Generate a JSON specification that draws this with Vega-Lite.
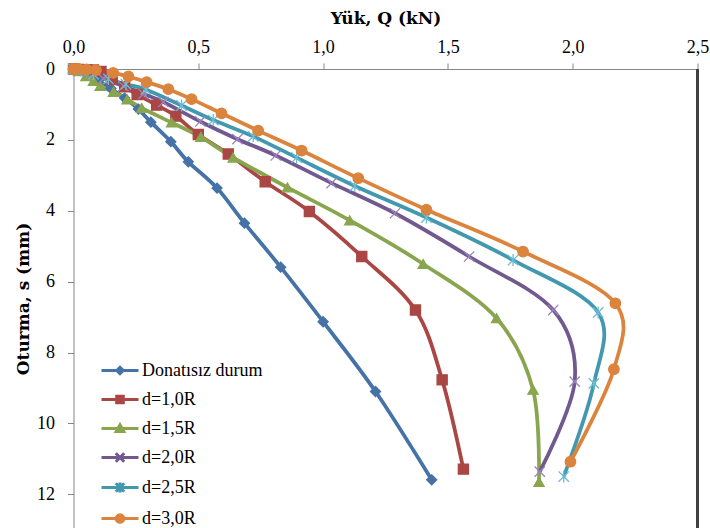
{
  "$schema": "https://vega.github.io/schema/vega-lite/v6.json",
  "width": 624,
  "height": 459,
  "autosize": {"type": "none"},
  "padding": {"left": 73.5, "top": 69, "right": 12.5, "bottom": 0},
  "background": "white",
  "config": {
    "view": {"stroke": null},
    "font": "Times New Roman",
    "axis": {
      "domainColor": "#868686",
      "tickColor": "#868686",
      "tickSize": 6,
      "grid": false,
      "labelFont": "Times New Roman",
      "labelFontSize": 18,
      "labelColor": "#000000",
      "labelFlush": false,
      "titleFont": "DejaVu Serif",
      "titleFontSize": 17,
      "titleFontWeight": "bold",
      "titleColor": "#000000"
    },
    "legend": {
      "labelFont": "Liberation Serif"
    }
  },
  "data": {
    "values": [
      {"g": "Donatısız durum", "i": 0, "q": 0, "s": 0},
      {"g": "Donatısız durum", "i": 1, "q": 0.02, "s": 0.02},
      {"g": "Donatısız durum", "i": 2, "q": 0.05, "s": 0.12},
      {"g": "Donatısız durum", "i": 3, "q": 0.1, "s": 0.32},
      {"g": "Donatısız durum", "i": 4, "q": 0.15, "s": 0.55},
      {"g": "Donatısız durum", "i": 5, "q": 0.205, "s": 0.82},
      {"g": "Donatısız durum", "i": 6, "q": 0.26, "s": 1.13},
      {"g": "Donatısız durum", "i": 7, "q": 0.31, "s": 1.5},
      {"g": "Donatısız durum", "i": 8, "q": 0.39, "s": 2.05},
      {"g": "Donatısız durum", "i": 9, "q": 0.46, "s": 2.62},
      {"g": "Donatısız durum", "i": 10, "q": 0.575, "s": 3.36},
      {"g": "Donatısız durum", "i": 11, "q": 0.685, "s": 4.35},
      {"g": "Donatısız durum", "i": 12, "q": 0.83, "s": 5.59},
      {"g": "Donatısız durum", "i": 13, "q": 1.0, "s": 7.13},
      {"g": "Donatısız durum", "i": 14, "q": 1.21, "s": 9.1},
      {"g": "Donatısız durum", "i": 15, "q": 1.435, "s": 11.59},

      {"g": "d=1,0R", "i": 0, "q": 0, "s": 0},
      {"g": "d=1,0R", "i": 1, "q": 0.02, "s": 0.01},
      {"g": "d=1,0R", "i": 2, "q": 0.05, "s": 0.02},
      {"g": "d=1,0R", "i": 3, "q": 0.08, "s": 0.03},
      {"g": "d=1,0R", "i": 4, "q": 0.11, "s": 0.07},
      {"g": "d=1,0R", "i": 5, "q": 0.155, "s": 0.3},
      {"g": "d=1,0R", "i": 6, "q": 0.205, "s": 0.5},
      {"g": "d=1,0R", "i": 7, "q": 0.255, "s": 0.72},
      {"g": "d=1,0R", "i": 8, "q": 0.333, "s": 1.02},
      {"g": "d=1,0R", "i": 9, "q": 0.41, "s": 1.33},
      {"g": "d=1,0R", "i": 10, "q": 0.5, "s": 1.85},
      {"g": "d=1,0R", "i": 11, "q": 0.62, "s": 2.4},
      {"g": "d=1,0R", "i": 12, "q": 0.768, "s": 3.18},
      {"g": "d=1,0R", "i": 13, "q": 0.945, "s": 4.02},
      {"g": "d=1,0R", "i": 14, "q": 1.155, "s": 5.29},
      {"g": "d=1,0R", "i": 15, "q": 1.37, "s": 6.8},
      {"g": "d=1,0R", "i": 16, "q": 1.477, "s": 8.77},
      {"g": "d=1,0R", "i": 17, "q": 1.562, "s": 11.29},

      {"g": "d=1,5R", "i": 0, "q": 0, "s": 0},
      {"g": "d=1,5R", "i": 1, "q": 0.02, "s": 0.06},
      {"g": "d=1,5R", "i": 2, "q": 0.05, "s": 0.2},
      {"g": "d=1,5R", "i": 3, "q": 0.08, "s": 0.34},
      {"g": "d=1,5R", "i": 4, "q": 0.107, "s": 0.48},
      {"g": "d=1,5R", "i": 5, "q": 0.16, "s": 0.65},
      {"g": "d=1,5R", "i": 6, "q": 0.215, "s": 0.86},
      {"g": "d=1,5R", "i": 7, "q": 0.273, "s": 1.1},
      {"g": "d=1,5R", "i": 8, "q": 0.393, "s": 1.51},
      {"g": "d=1,5R", "i": 9, "q": 0.51, "s": 1.92},
      {"g": "d=1,5R", "i": 10, "q": 0.64, "s": 2.5},
      {"g": "d=1,5R", "i": 11, "q": 0.857, "s": 3.34},
      {"g": "d=1,5R", "i": 12, "q": 1.107, "s": 4.27},
      {"g": "d=1,5R", "i": 13, "q": 1.401, "s": 5.5},
      {"g": "d=1,5R", "i": 14, "q": 1.695, "s": 7.03},
      {"g": "d=1,5R", "i": 15, "q": 1.841, "s": 9.05},
      {"g": "d=1,5R", "i": 16, "q": 1.865, "s": 11.65},

      {"g": "d=2,0R", "i": 0, "q": 0, "s": 0},
      {"g": "d=2,0R", "i": 1, "q": 0.02, "s": 0.03},
      {"g": "d=2,0R", "i": 2, "q": 0.06, "s": 0.12},
      {"g": "d=2,0R", "i": 3, "q": 0.12, "s": 0.27},
      {"g": "d=2,0R", "i": 4, "q": 0.2, "s": 0.48},
      {"g": "d=2,0R", "i": 5, "q": 0.28, "s": 0.7},
      {"g": "d=2,0R", "i": 6, "q": 0.36, "s": 0.93},
      {"g": "d=2,0R", "i": 7, "q": 0.508, "s": 1.48},
      {"g": "d=2,0R", "i": 8, "q": 0.657, "s": 1.98},
      {"g": "d=2,0R", "i": 9, "q": 0.81, "s": 2.44},
      {"g": "d=2,0R", "i": 10, "q": 1.034, "s": 3.22},
      {"g": "d=2,0R", "i": 11, "q": 1.288, "s": 4.07},
      {"g": "d=2,0R", "i": 12, "q": 1.585, "s": 5.29},
      {"g": "d=2,0R", "i": 13, "q": 1.922, "s": 6.8},
      {"g": "d=2,0R", "i": 14, "q": 2.008, "s": 8.82},
      {"g": "d=2,0R", "i": 15, "q": 1.868, "s": 11.36},

      {"g": "d=2,5R", "i": 0, "q": 0, "s": 0},
      {"g": "d=2,5R", "i": 1, "q": 0.03, "s": 0.04},
      {"g": "d=2,5R", "i": 2, "q": 0.08, "s": 0.15},
      {"g": "d=2,5R", "i": 3, "q": 0.14, "s": 0.28},
      {"g": "d=2,5R", "i": 4, "q": 0.21, "s": 0.43},
      {"g": "d=2,5R", "i": 5, "q": 0.29, "s": 0.58},
      {"g": "d=2,5R", "i": 6, "q": 0.433, "s": 1.03},
      {"g": "d=2,5R", "i": 7, "q": 0.56, "s": 1.44},
      {"g": "d=2,5R", "i": 8, "q": 0.72, "s": 1.9},
      {"g": "d=2,5R", "i": 9, "q": 0.894, "s": 2.5},
      {"g": "d=2,5R", "i": 10, "q": 1.127, "s": 3.3},
      {"g": "d=2,5R", "i": 11, "q": 1.414, "s": 4.19},
      {"g": "d=2,5R", "i": 12, "q": 1.761, "s": 5.39},
      {"g": "d=2,5R", "i": 13, "q": 2.102, "s": 6.87},
      {"g": "d=2,5R", "i": 14, "q": 2.085, "s": 8.87},
      {"g": "d=2,5R", "i": 15, "q": 1.964, "s": 11.5},

      {"g": "d=3,0R", "i": 0, "q": 0, "s": 0},
      {"g": "d=3,0R", "i": 1, "q": 0.02, "s": 0.0},
      {"g": "d=3,0R", "i": 2, "q": 0.053, "s": 0.01},
      {"g": "d=3,0R", "i": 3, "q": 0.09, "s": 0.03},
      {"g": "d=3,0R", "i": 4, "q": 0.159, "s": 0.11},
      {"g": "d=3,0R", "i": 5, "q": 0.22, "s": 0.21},
      {"g": "d=3,0R", "i": 6, "q": 0.293, "s": 0.37},
      {"g": "d=3,0R", "i": 7, "q": 0.38, "s": 0.57},
      {"g": "d=3,0R", "i": 8, "q": 0.473, "s": 0.85},
      {"g": "d=3,0R", "i": 9, "q": 0.593, "s": 1.25},
      {"g": "d=3,0R", "i": 10, "q": 0.74, "s": 1.74},
      {"g": "d=3,0R", "i": 11, "q": 0.914, "s": 2.3},
      {"g": "d=3,0R", "i": 12, "q": 1.141, "s": 3.08},
      {"g": "d=3,0R", "i": 13, "q": 1.414, "s": 3.97},
      {"g": "d=3,0R", "i": 14, "q": 1.801, "s": 5.15},
      {"g": "d=3,0R", "i": 15, "q": 2.171, "s": 6.61},
      {"g": "d=3,0R", "i": 16, "q": 2.165, "s": 8.47},
      {"g": "d=3,0R", "i": 17, "q": 1.991, "s": 11.08}
    ]
  },
  "layer": [
    {
      "mark": {"type": "rule", "color": "#404040", "strokeWidth": 1.5},
      "encoding": {"x": {"datum": 2.5, "type": "quantitative"}}
    },
    {
      "mark": {"type": "line", "interpolate": "cardinal", "strokeWidth": 3.75},
      "encoding": {
        "x": {
          "field": "q", "type": "quantitative",
          "scale": {"domain": [0, 2.5], "nice": false, "zero": false},
          "axis": {
            "orient": "top",
            "title": "Yük, Q (kN)",
            "values": [0, 0.5, 1, 1.5, 2, 2.5],
            "labelExpr": "replace(format(datum.value, '.1f'), '.', ',')",
            "labelPadding": 7,
            "titleBaseline": "alphabetic",
            "titleY": -46
          }
        },
        "y": {
          "field": "s", "type": "quantitative",
          "scale": {"domain": [0, 12.95], "reverse": true, "nice": false, "zero": false},
          "axis": {
            "title": "Oturma, s (mm)",
            "values": [0, 2, 4, 6, 8, 10, 12],
            "labelPadding": 13,
            "titleBaseline": "alphabetic",
            "titleX": -45.5
          }
        },
        "order": {"field": "i", "type": "quantitative"},
        "color": {
          "field": "g", "type": "nominal",
          "scale": {
            "domain": ["Donatısız durum", "d=1,0R", "d=1,5R", "d=2,0R", "d=2,5R", "d=3,0R"],
            "range": ["#4572A7", "#AA4643", "#89A54E", "#71588F", "#4198AF", "#DB843D"]
          },
          "legend": null
        }
      }
    },
    {
      "mark": {"type": "point", "strokeWidth": 1.3, "opacity": 1},
      "encoding": {
        "x": {"field": "q", "type": "quantitative"},
        "y": {"field": "s", "type": "quantitative"},
        "shape": {
          "field": "g", "type": "nominal",
          "scale": {
            "domain": ["Donatısız durum", "d=1,0R", "d=1,5R", "d=2,0R", "d=2,5R", "d=3,0R"],
            "range": ["diamond", "square", "triangle-up", "M-1,-1L1,1M-1,1L1,-1", "M-1,-1L1,1M-1,1L1,-1M0,-1.15V1.15", "circle"]
          },
          "legend": null
        },
        "fill": {
          "field": "g", "type": "nominal",
          "scale": {
            "domain": ["Donatısız durum", "d=1,0R", "d=1,5R", "d=2,0R", "d=2,5R", "d=3,0R"],
            "range": ["#4572A7", "#AA4643", "#89A54E", "transparent", "transparent", "#DB843D"]
          },
          "legend": null
        },
        "stroke": {
          "field": "g", "type": "nominal",
          "scale": {
            "domain": ["Donatısız durum", "d=1,0R", "d=1,5R", "d=2,0R", "d=2,5R", "d=3,0R"],
            "range": ["#4572A7", "#AA4643", "#89A54E", "#9A84BA", "#6CBCD2", "#DB843D"]
          },
          "legend": null
        },
        "size": {
          "field": "g", "type": "nominal",
          "scale": {
            "domain": ["Donatısız durum", "d=1,0R", "d=1,5R", "d=2,0R", "d=2,5R", "d=3,0R"],
            "range": [100, 110, 130, 130, 130, 135]
          },
          "legend": null
        }
      }
    },
    {
      "transform": [{"filter": "datum.i < 0"}],
      "mark": {"type": "point", "strokeWidth": 3, "size": 400, "opacity": 1},
      "encoding": {
        "x": {"field": "q", "type": "quantitative"},
        "y": {"field": "s", "type": "quantitative"},
        "shape": {
          "field": "g", "type": "nominal",
          "scale": {
            "domain": ["Donatısız durum", "d=1,0R", "d=1,5R", "d=2,0R", "d=2,5R", "d=3,0R"],
            "range": [
              "M-1.85,0H1.85M-0.32,0L0,-0.32L0.32,0L0,0.32Z",
              "M-1.85,0H1.85M-0.33,-0.33H0.33V0.33H-0.33Z",
              "M-1.85,0H1.85M-0.38,0.3L0,-0.38L0.38,0.3Z",
              "M-1.85,0H1.85M-0.42,-0.42L0.42,0.42M-0.42,0.42L0.42,-0.42",
              "M-1.85,0H1.85M-0.42,-0.42L0.42,0.42M-0.42,0.42L0.42,-0.42M0,-0.5V0.5",
              "M-1.85,0H1.85M-0.38,0A0.38,0.38 0 1,0 0.38,0A0.38,0.38 0 1,0 -0.38,0Z"
            ]
          },
          "legend": {
            "orient": "none",
            "legendX": 35,
            "legendY": 290,
            "direction": "vertical",
            "title": null,
            "padding": 0,
            "labelFont": "Liberation Serif",
            "labelFontSize": 18,
            "labelColor": "#000000",
            "labelOffset": 10.5,
            "rowPadding": 8,
            "symbolSize": 400,
            "symbolStrokeWidth": 3,
            "symbolOpacity": 1
          }
        },
        "fill": {
          "field": "g", "type": "nominal",
          "scale": {
            "domain": ["Donatısız durum", "d=1,0R", "d=1,5R", "d=2,0R", "d=2,5R", "d=3,0R"],
            "range": ["#4572A7", "#AA4643", "#89A54E", "#71588F", "#4198AF", "#DB843D"]
          },
          "legend": {
            "orient": "none",
            "legendX": 35,
            "legendY": 290,
            "direction": "vertical",
            "title": null,
            "padding": 0,
            "labelFont": "Liberation Serif",
            "labelFontSize": 18,
            "labelColor": "#000000",
            "labelOffset": 10.5,
            "rowPadding": 8,
            "symbolSize": 400,
            "symbolStrokeWidth": 3,
            "symbolOpacity": 1
          }
        },
        "stroke": {
          "field": "g", "type": "nominal",
          "scale": {
            "domain": ["Donatısız durum", "d=1,0R", "d=1,5R", "d=2,0R", "d=2,5R", "d=3,0R"],
            "range": ["#4572A7", "#AA4643", "#89A54E", "#71588F", "#4198AF", "#DB843D"]
          },
          "legend": {
            "orient": "none",
            "legendX": 35,
            "legendY": 290,
            "direction": "vertical",
            "title": null,
            "padding": 0,
            "labelFont": "Liberation Serif",
            "labelFontSize": 18,
            "labelColor": "#000000",
            "labelOffset": 10.5,
            "rowPadding": 8,
            "symbolSize": 400,
            "symbolStrokeWidth": 3,
            "symbolOpacity": 1
          }
        }
      }
    }
  ],
  "resolve": {"scale": {"shape": "independent", "fill": "independent", "stroke": "independent"}}
}
